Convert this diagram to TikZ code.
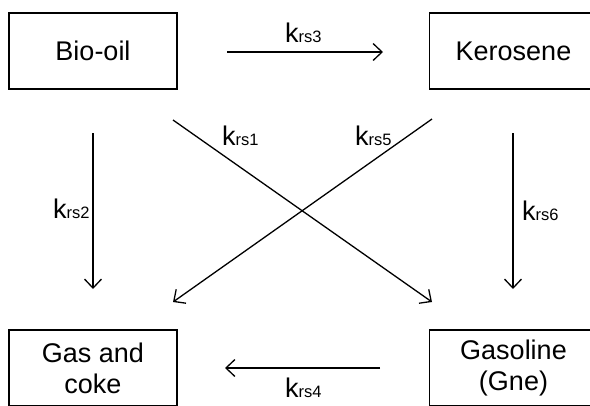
\documentclass[tikz,border=0pt]{standalone}
\usepackage{fontspec}
\setmainfont{Liberation Sans}
\usetikzlibrary{arrows.meta}
\newcommand\krs[1]{k{\fontsize{16.5}{18}\selectfont #1}}
\begin{document}
\begin{tikzpicture}[x=1pt,y=-1pt,
  box/.style={draw,line width=1.4pt,minimum width=168pt,minimum height=76pt,inner sep=0pt,align=center,font=\fontsize{27}{31}\selectfont},
  conn/.style={line width=1.3pt,-{Straight Barb[length=9pt,width=17pt,line width=1.3pt]}},
  lab/.style={anchor=base west,inner sep=0pt,font=\fontsize{27}{31}\selectfont}]
\useasboundingbox (0,0) rectangle (590,405);
\clip (0,0) rectangle (590,405);
\node[box] (bio) at (93,51) {Bio-oil};
\node[box] (ker) at (513.5,51) {Kerosene};
\node[box] (gas) at (93,368) {Gas and\\coke};
\node[box] (gne) at (513.5,368) {Gasoline\\(Gne)};
% connector end points
\coordinate (a3s) at (227,52);  \coordinate (a3e) at (383,52);
\coordinate (a2s) at (93,133);  \coordinate (a2e) at (93,289);
\coordinate (a6s) at (513,133); \coordinate (a6e) at (513,289);
\coordinate (a4s) at (380,368); \coordinate (a4e) at (225,368);
\coordinate (a1s) at (173,120); \coordinate (a1e) at (432,302);
\coordinate (a5s) at (432,119); \coordinate (a5e) at (173,302);
\draw[conn] (a3s) -- (a3e);
\draw[conn] (a2s) -- (a2e);
\draw[conn] (a6s) -- (a6e);
\draw[conn] (a4s) -- (a4e);
\draw[conn] (a1s) -- (a1e);
\draw[conn] (a5s) -- (a5e);
% labels
\node[lab] (l3) at (285,42) {\krs{rs3}};
\node[lab] (l1) at (222,145) {\krs{rs1}};
\node[lab] (l5) at (355,145) {\krs{rs5}};
\node[lab] (l2) at (53,218) {\krs{rs2}};
\node[lab] (l6) at (522,220) {\krs{rs6}};
\node[lab] (l4) at (285,397) {\krs{rs4}};
\end{tikzpicture}
\end{document}
